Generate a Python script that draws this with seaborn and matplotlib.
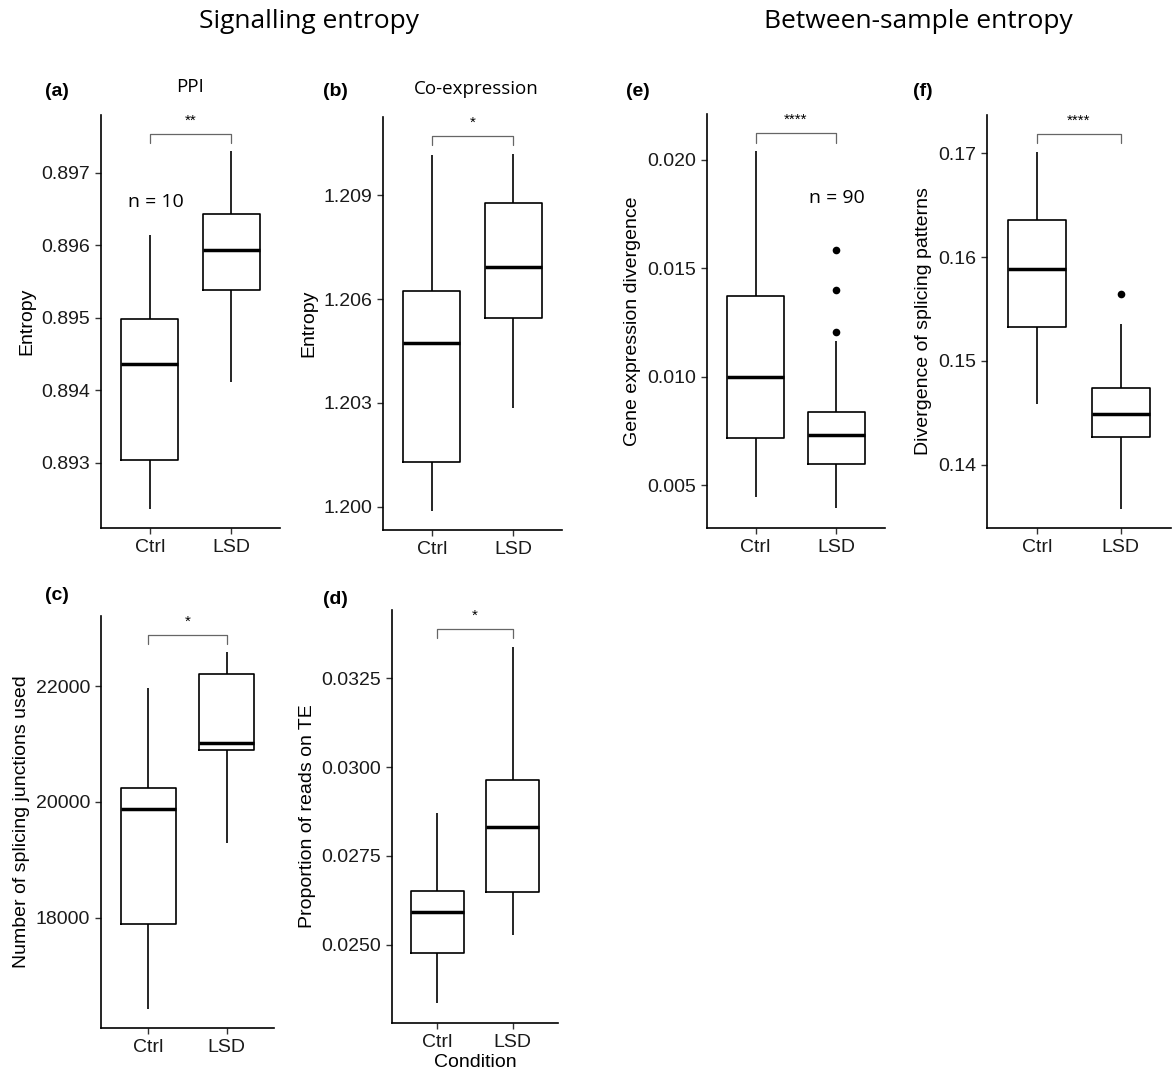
import numpy as np
import pandas as pd
import matplotlib
matplotlib.use("Agg")
import matplotlib.pyplot as plt
import matplotlib.transforms as mtransforms
import seaborn as sns

groups = ["Ctrl", "LSD"]

# box summaries: [lower whisker, Q1, median, Q3, upper whisker]
ppi_ctrl = [0.89236, 0.89304, 0.89436, 0.89499, 0.89614]
ppi_lsd = [0.89412, 0.89539, 0.89594, 0.89644, 0.89730]

coexp_ctrl = [1.19988, 1.20128, 1.20472, 1.20622, 1.21016]
coexp_lsd = [1.20286, 1.20544, 1.20694, 1.20879, 1.21018]

junc_ctrl = [16415, 17896, 19879, 20232, 21971]
junc_lsd = [19291, 20894, 21009, 22202, 22593]

te_ctrl = [0.02334, 0.02476, 0.02593, 0.02652, 0.02870]
te_lsd = [0.02528, 0.02647, 0.02831, 0.02965, 0.03339]

gexp_ctrl = [0.00446, 0.00718, 0.01001, 0.01374, 0.02042]
gexp_lsd = [0.00395, 0.00600, 0.00734, 0.00838, 0.01166]
gexp_lsd_out = [0.01207, 0.01400, 0.01585]

spl_ctrl = [0.14584, 0.15327, 0.15888, 0.16359, 0.17015]
spl_lsd = [0.13574, 0.14272, 0.14488, 0.14735, 0.15360]
spl_lsd_out = [0.15647]

sig_labels = {"a": "**", "b": "*", "c": "*", "d": "*", "e": "****", "f": "****"}

sns.set_style("ticks")
plt.rcParams["font.family"] = ["Liberation Sans", "DejaVu Sans"]
plt.rcParams["text.color"] = "black"
plt.rcParams["axes.labelcolor"] = "black"
plt.rcParams["xtick.labelcolor"] = "#1a1a1a"
plt.rcParams["ytick.labelcolor"] = "#1a1a1a"

W, H = 1172, 1074
fig = plt.figure(figsize=(W / 100, H / 100), dpi=100)


def panel(key, rect, ctrl, lsd, ylim, yticks, fmt, ylabel, outliers=None, xlabel=""):
    l, t, r, b = rect
    ax = fig.add_axes([l / W, 1 - b / H, (r - l) / W, (b - t) / H])
    df = pd.DataFrame({"Condition": [groups[0]] * len(ctrl) + [groups[1]] * len(lsd),
                       "value": ctrl + lsd})
    sns.boxplot(data=df, x="Condition", y="value", order=groups, whis=(0, 100),
                width=0.7, fill=False, color="black", linewidth=1.2, showcaps=False,
                medianprops={"linewidth": 2.5}, ax=ax)
    if outliers:
        sns.stripplot(x=[groups[1]] * len(outliers), y=outliers, order=groups,
                      jitter=False, color="black", size=5.5, ax=ax)
    ax.set_xlim(-0.6, 1.6)
    ax.set_ylim(*ylim)
    ax.set_yticks(yticks)
    ax.set_yticklabels([fmt.format(v) for v in yticks])
    ax.set_xlabel(xlabel, fontsize=14, labelpad=2)
    ax.set_ylabel(ylabel, fontsize=14)
    ax.tick_params(axis="both", labelsize=14, length=4, width=1.0, color="#333333",
                   direction="out", pad=4)
    for s in ["left", "bottom"]:
        ax.spines[s].set_linewidth(1.2)
        ax.spines[s].set_color("black")
    sns.despine(ax=ax)
    # significance bracket
    tr = mtransforms.blended_transform_factory(ax.transData, ax.transAxes)
    ax.plot([0, 0, 1, 1], [0.931, 0.955, 0.955, 0.931], transform=tr,
            color="#666666", lw=0.9, clip_on=False)
    ax.text(0.5, 0.97, sig_labels[key], transform=tr, ha="center", va="bottom",
            fontsize=11)
    return ax


ax_a = panel("a", (101, 115, 280, 528), ppi_ctrl, ppi_lsd, (0.8921, 0.8978),
             [0.893, 0.894, 0.895, 0.896, 0.897], "{:.3f}", "Entropy")
ax_b = panel("b", (383, 117, 562, 530), coexp_ctrl, coexp_lsd, (1.19933, 1.21126),
             [1.200, 1.203, 1.206, 1.209], "{:.3f}", "Entropy")
ax_e = panel("e", (707, 114, 885, 528), gexp_ctrl, gexp_lsd, (0.00303, 0.02212),
             [0.005, 0.010, 0.015, 0.020], "{:.3f}", "Gene expression divergence",
             outliers=gexp_lsd_out)
ax_f = panel("f", (987, 115, 1171, 528), spl_ctrl, spl_lsd, (0.13391, 0.17368),
             [0.14, 0.15, 0.16, 0.17], "{:.2f}", "Divergence of splicing patterns",
             outliers=spl_lsd_out)
ax_c = panel("c", (101, 616, 274, 1028), junc_ctrl, junc_lsd, (16092, 23210),
             [18000, 20000, 22000], "{:.0f}", "Number of splicing junctions used")
ax_d = panel("d", (392, 610, 558, 1023), te_ctrl, te_lsd, (0.02279, 0.03443),
             [0.0250, 0.0275, 0.0300, 0.0325], "{:.4f}", "Proportion of reads on TE",
             xlabel="Condition")

# panel subtitles and sample sizes
ax_a.text(0.5, 1.068, "PPI", transform=ax_a.transAxes, ha="center", va="center",
          fontsize=13.5, family=["Open Sans", "DejaVu Sans"])
ax_b.text(0.52, 1.068, "Co-expression", transform=ax_b.transAxes, ha="center",
          va="center", fontsize=13.5, family=["Open Sans", "DejaVu Sans"])
ax_a.text(0.08, 0.8966, "n = 10", ha="center", va="center", fontsize=14,
          family=["Open Sans", "DejaVu Sans"])
ax_e.text(1.0, 0.01823, "n = 90", ha="center", va="center", fontsize=14,
          family=["Open Sans", "DejaVu Sans"])

# panel letters
for lab, (px, py) in {"(a)": (57, 92), "(b)": (335, 92), "(e)": (638, 92),
                      "(f)": (923, 92), "(c)": (57, 596), "(d)": (335, 599)}.items():
    fig.text(px / W, 1 - py / H, lab, ha="center", va="center", fontsize=14,
             fontweight="bold")

# column headers
fig.text(309 / W, 1 - 22 / H, "Signalling entropy", ha="center", va="center",
         fontsize=19, family=["Open Sans", "DejaVu Sans"])
fig.text(918 / W, 1 - 22 / H, "Between-sample entropy", ha="center", va="center",
         fontsize=19, family=["Open Sans", "DejaVu Sans"])

fig.savefig("out.png", dpi=100)
